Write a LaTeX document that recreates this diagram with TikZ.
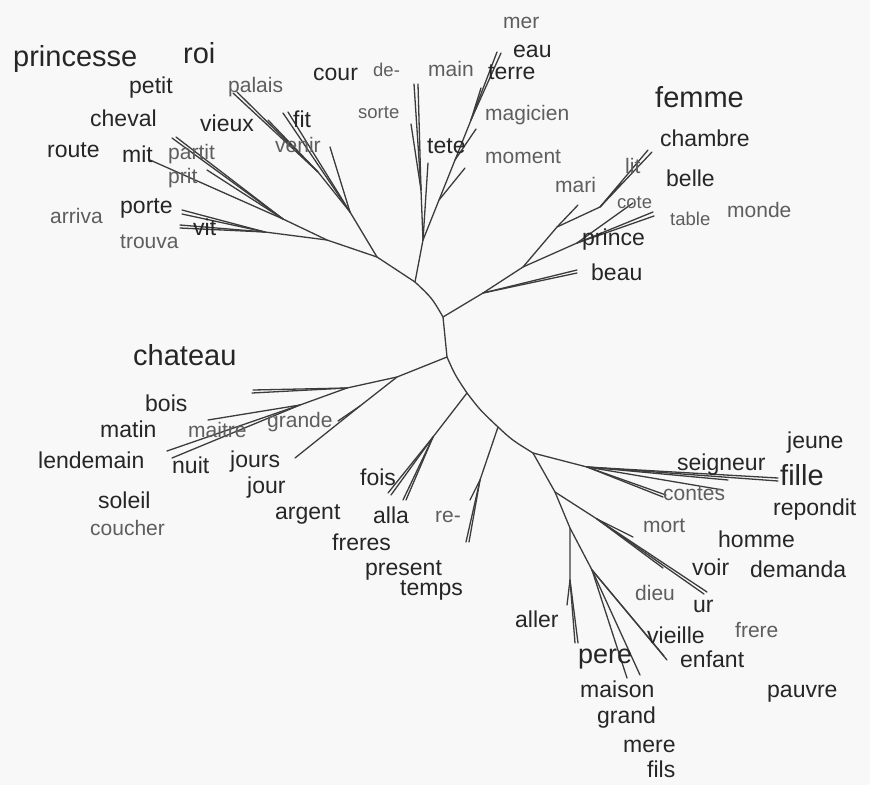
\documentclass[tikz,border=0pt]{standalone}
\usepackage{fontspec}
\setmainfont{Liberation Sans}
\definecolor{dk}{HTML}{262626}
\definecolor{gr}{HTML}{5E5E5E}
\definecolor{ln}{HTML}{3C3C3C}
\definecolor{bg}{HTML}{F8F8F8}
\begin{document}
\begin{tikzpicture}[x=1pt,y=-1pt,
  edge/.style={draw=ln,line width=1.3pt,line cap=round},
  dl/.style={anchor=base west,inner sep=0pt,text=dk,font=\fontsize{23}{23}\selectfont},
  bl/.style={anchor=base west,inner sep=0pt,text=dk,font=\fontsize{29}{29}\selectfont},
  gl/.style={anchor=base west,inner sep=0pt,text=gr,font=\fontsize{21}{21}\selectfont},
  sl/.style={anchor=base west,inner sep=0pt,text=gr,font=\fontsize{18.5}{18.5}\selectfont}]
\fill[bg] (0,0) rectangle (870,785);
\useasboundingbox (0,0) rectangle (870,785);
% ---------- backbone ----------
\coordinate (c1) at (415,282);
\coordinate (c2) at (443,317);
\coordinate (c3) at (447,357);
\coordinate (c4) at (467,393);
\coordinate (c5) at (498,427);
\coordinate (c6) at (533,453);
\draw[edge] (c1) .. controls (432,298) .. (c2) -- (c3)
  .. controls (455,375) .. (c4) .. controls (480,410) .. (c5)
  .. controls (512,440) .. (c6);
% ---------- top: tete / terre ----------
\coordinate (B) at (423,240);
\coordinate (C) at (421,190);
\coordinate (t1) at (428,163);
\coordinate (de1) at (414,84);
\coordinate (de2) at (418,84);
\coordinate (so) at (411,124);
\coordinate (d1) at (439,200);
\coordinate (d2) at (455,160);
\coordinate (d3) at (471,120);
\coordinate (e1) at (465,168);
\coordinate (e2) at (476,129);
\coordinate (e3) at (481,88);
\coordinate (te1) at (497,52);
\coordinate (te2) at (501,53);
\draw[edge] (c1) -- (B) -- (t1);
\draw[edge] (B) -- (C) -- (de1);
\draw[edge] (C) -- (de2);
\draw[edge] (C) -- (so);
\draw[edge] (B) -- (d1) -- (d2) -- (d3) -- (te1);
\draw[edge] (d3) -- (te2);
\draw[edge] (d1) -- (e1);
\draw[edge] (d2) -- (e2);
\draw[edge] (d3) -- (e3);
% ---------- top-left ----------
\coordinate (E) at (377,257);
\coordinate (G) at (350,212);
\coordinate (G2) at (318,172);
\coordinate (pa1) at (233,93);
\coordinate (pa2) at (237,92);
\coordinate (vx) at (268,120);
\coordinate (fi1) at (283,113);
\coordinate (fi2) at (288,112);
\coordinate (ve) at (330,147);
\coordinate (H) at (327,240);
\coordinate (H2) at (265,232);
\coordinate (po1) at (182,210);
\coordinate (po2) at (182,214);
\coordinate (vi1) at (180,225);
\coordinate (vi2) at (180,228);
\coordinate (I) at (283,219);
\coordinate (pt1) at (172,138);
\coordinate (pt2) at (176,137);
\coordinate (mi) at (150,160);
\coordinate (pr) at (207,170);
\draw[edge] (c1) -- (E) -- (G) -- (G2) -- (pa1);
\draw[edge] (G2) -- (pa2);
\draw[edge] (G2) -- (vx);
\draw[edge] (G) -- (fi1);
\draw[edge] (G) -- (fi2);
\draw[edge] (G) -- (ve);
\draw[edge] (E) -- (H) -- (H2) -- (po1);
\draw[edge] (H2) -- (po2);
\draw[edge] (H2) -- (vi1);
\draw[edge] (H2) -- (vi2);
\draw[edge] (H) -- (I) -- (mi);
\draw[edge] (I) -- (pt1);
\draw[edge] (I) -- (pt2);
\draw[edge] (I) -- (pr);
% ---------- femme branch ----------
\coordinate (F1) at (483,293);
\coordinate (F2) at (523,267);
\coordinate (F3) at (577,243);
\coordinate (F4) at (557,227);
\coordinate (F5) at (600,207);
\coordinate (be1) at (577,270);
\coordinate (be2) at (577,273);
\coordinate (ma) at (578,205);
\coordinate (ch1) at (648,150);
\coordinate (ch2) at (652,152);
\coordinate (li) at (622,183);
\coordinate (co) at (633,203);
\coordinate (ta1) at (653,212);
\coordinate (ta2) at (654,216);
\draw[edge] (c2) -- (F1) -- (be1);
\draw[edge] (F1) -- (be2);
\draw[edge] (F1) -- (F2) -- (F4) -- (F5) -- (ch1);
\draw[edge] (F5) -- (ch2);
\draw[edge] (F5) -- (li);
\draw[edge] (F4) -- (ma);
\draw[edge] (F2) -- (F3) -- (co);
\draw[edge] (F3) -- (ta1);
\draw[edge] (F3) -- (ta2);
% ---------- chateau branch ----------
\coordinate (K) at (397,377);
\coordinate (L) at (347,388);
\coordinate (M) at (300,405);
\coordinate (ct1) at (252,393);
\coordinate (ct2) at (253,390);
\coordinate (mt) at (208,420);
\coordinate (ln1) at (167,451);
\coordinate (ln2) at (172,458);
\coordinate (jo) at (295,458);
\coordinate (K2) at (360,406);
\coordinate (gd) at (338,421);
\draw[edge] (c3) -- (K) -- (L) -- (ct1);
\draw[edge] (L) -- (ct2);
\draw[edge] (L) -- (M) -- (mt);
\draw[edge] (M) -- (ln1);
\draw[edge] (M) -- (ln2);
\draw[edge] (K) -- (K2) -- (jo);
\draw[edge] (K2) -- (gd);
% ---------- fois branch ----------
\coordinate (O) at (433,437);
\coordinate (fo1) at (388,493);
\coordinate (fo2) at (391,495);
\coordinate (al1) at (403,500);
\coordinate (al2) at (406,500);
\draw[edge] (c4) -- (O) -- (fo1);
\draw[edge] (O) -- (fo2);
\draw[edge] (O) -- (al1);
\draw[edge] (O) -- (al2);
% ---------- re- branch ----------
\coordinate (P) at (480,480);
\coordinate (re1) at (470,500);
\coordinate (re2) at (466,542);
\coordinate (re3) at (469,542);
\draw[edge] (c5) -- (P) -- (re1);
\draw[edge] (P) -- (re2);
\draw[edge] (P) -- (re3);
% ---------- fille branch ----------
\coordinate (R) at (587,467);
\coordinate (fl1) at (778,478);
\coordinate (fl2) at (778,481);
\coordinate (sg) at (728,480);
\coordinate (cn1) at (663,497);
\coordinate (cn2) at (666,495);
\coordinate (cn3) at (723,490);
\draw[edge] (c6) -- (R) -- (fl1);
\draw[edge] (R) -- (fl2);
\draw[edge] (R) -- (sg);
\draw[edge] (R) -- (cn1);
\draw[edge] (R) -- (cn2);
\draw[edge] (R) -- (cn3);
% ---------- lower branch ----------
\coordinate (T) at (555,492);
\coordinate (T2) at (597,519);
\coordinate (vo1) at (707,592);
\coordinate (vo2) at (704,594);
\coordinate (mo) at (633,537);
\coordinate (di) at (663,568);
\coordinate (U) at (570,528);
\coordinate (Uj) at (570,580);
\coordinate (al3) at (567,605);
\coordinate (pe1) at (575,643);
\coordinate (pe2) at (578,643);
\coordinate (V) at (592,570);
\coordinate (en1) at (667,660);
\coordinate (en2) at (664,656);
\coordinate (ms1) at (627,678);
\coordinate (ms2) at (640,675);
\draw[edge] (c6) -- (T) -- (T2) -- (vo1);
\draw[edge] (T2) -- (vo2);
\draw[edge] (T2) -- (mo);
\draw[edge] (T2) -- (di);
\draw[edge] (T) -- (U) -- (Uj) -- (al3);
\draw[edge] (Uj) -- (pe1);
\draw[edge] (Uj) -- (pe2);
\draw[edge] (U) -- (V) -- (en1);
\draw[edge] (V) -- (en2);
\draw[edge] (V) -- (ms1);
\draw[edge] (V) -- (ms2);
% ---------- labels ----------
\node[bl] (princesse) at (13,66) {princesse};
\node[bl] (roi) at (183,63) {roi};
\node[bl] (femme) at (655,107) {femme};
\node[bl] (chateau) at (133,365) {chateau};
\node[bl,font=\fontsize{27}{27}\selectfont] (pere) at (578,663) {pere};
\node[bl] (fille) at (780,485) {fille};
\node[dl] (petit) at (129,93) {petit};
\node[dl] (cheval) at (90,126) {cheval};
\node[dl] (vieux) at (200,131) {vieux};
\node[dl] (route) at (47,157) {route};
\node[dl] (mit) at (122,162) {mit};
\node[dl] (porte) at (120,213) {porte};
\node[dl] (vit) at (193,235) {vit};
\node[dl] (cour) at (313,80) {cour};
\node[dl] (eau) at (513,57) {eau};
\node[dl] (terre) at (488,79) {terre};
\node[dl] (fit) at (293,127) {fit};
\node[dl] (tete) at (427,153) {tete};
\node[dl] (chambre) at (660,146) {chambre};
\node[dl] (belle) at (666,186) {belle};
\node[dl] (prince) at (582,245) {prince};
\node[dl] (beau) at (591,280) {beau};
\node[dl] (bois) at (145,411) {bois};
\node[dl] (matin) at (100,437) {matin};
\node[dl] (lendemain) at (38,468) {lendemain};
\node[dl] (nuit) at (172,473) {nuit};
\node[dl] (jours) at (230,467) {jours};
\node[dl] (jour) at (247,493) {jour};
\node[dl] (soleil) at (98,508) {soleil};
\node[dl] (argent) at (275,519) {argent};
\node[dl] (fois) at (360,485) {fois};
\node[dl] (alla) at (373,523) {alla};
\node[dl] (freres) at (332,550) {freres};
\node[dl] (present) at (365,575) {present};
\node[dl] (temps) at (400,595) {temps};
\node[dl] (aller) at (515,627) {aller};
\node[dl] (jeune) at (787,448) {jeune};
\node[dl] (seigneur) at (677,470) {seigneur};
\node[dl] (repondit) at (773,515) {repondit};
\node[dl] (homme) at (718,547) {homme};
\node[dl] (voir) at (692,575) {voir};
\node[dl] (demanda) at (750,577) {demanda};
\node[dl] (ur) at (693,612) {ur};
\node[dl] (vieille) at (647,643) {vieille};
\node[dl] (enfant) at (680,667) {enfant};
\node[dl] (maison) at (580,697) {maison};
\node[dl] (pauvre) at (767,697) {pauvre};
\node[dl] (grand) at (597,723) {grand};
\node[dl] (mere) at (623,752) {mere};
\node[dl] (fils) at (647,777) {fils};
\node[gl] (palais) at (228,92) {palais};
\node[gl] (partit) at (168,159) {partit};
\node[gl] (prit) at (168,183) {prit};
\node[gl] (arriva) at (50,223) {arriva};
\node[gl] (trouva) at (120,248) {trouva};
\node[gl] (mer) at (503,28) {mer};
\node[sl] (de) at (373,76) {de-};
\node[gl] (main) at (428,76) {main};
\node[sl] (sorte) at (358,118) {sorte};
\node[gl] (magicien) at (485,120) {magicien};
\node[gl] (venir) at (275,152) {venir};
\node[gl] (moment) at (485,163) {moment};
\node[gl] (mari) at (555,192) {mari};
\node[gl] (lit) at (625,173) {lit};
\node[sl] (cote) at (617,208) {cote};
\node[sl] (table) at (670,225) {table};
\node[gl] (monde) at (727,217) {monde};
\node[gl] (maitre) at (188,437) {maitre};
\node[gl] (grande) at (267,427) {grande};
\node[gl] (coucher) at (90,535) {coucher};
\node[gl] (re) at (435,522) {re-};
\node[gl] (contes) at (663,500) {contes};
\node[gl] (mort) at (643,532) {mort};
\node[gl] (dieu) at (635,600) {dieu};
\node[gl] (frere) at (735,637) {frere};
\end{tikzpicture}
\end{document}
